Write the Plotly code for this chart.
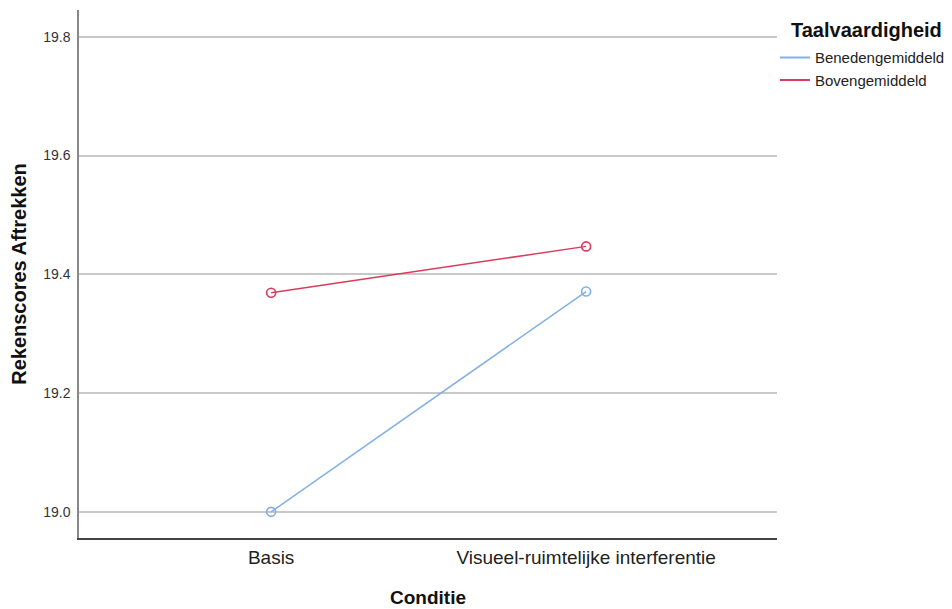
import plotly.graph_objects as go

categories = ["Basis", "Visueel-ruimtelijke interferentie"]
beneden = [19.000, 19.371]
boven = [19.369, 19.447]
series_names = ["Benedengemiddeld", "Bovengemiddeld"]
legend_title = "Taalvaardigheid"
y_ticks = [19.0, 19.2, 19.4, 19.6, 19.8]
y_tick_labels = ["19.0", "19.2", "19.4", "19.6", "19.8"]

colors = ["#80B0E8", "#DA3B5E"]

fig = go.Figure()
for name, vals, col in zip(series_names, [beneden, boven], colors):
    fig.add_trace(go.Scatter(
        x=categories, y=vals, name=name, mode="lines+markers",
        line=dict(color=col, width=1.5),
        marker=dict(symbol="circle-open", size=9, color=col, line=dict(width=1.6, color=col)),
        showlegend=False,
    ))
    # legend entry: line only, as in the reference
    fig.add_trace(go.Scatter(
        x=[None], y=[None], name=name, mode="lines",
        line=dict(color=col, width=2), showlegend=True,
    ))

font_family = "Liberation Sans, Arial, sans-serif"
fig.update_layout(
    width=952, height=609,
    margin=dict(l=71, r=183, t=2, b=79),
    paper_bgcolor="white", plot_bgcolor="white",
    font=dict(family=font_family, color="#222"),
    legend=dict(
        x=0.997, y=0.941, xanchor="left", yanchor="top",
        font=dict(size=15, color="#222"),
        itemwidth=30, tracegroupgap=0, bgcolor="rgba(0,0,0,0)",
    ),
    showlegend=True,
    annotations=[dict(
        text="<b>" + legend_title + "</b>", xref="paper", yref="paper",
        x=1.017, y=0.962, xanchor="left", yanchor="middle", showarrow=False,
        font=dict(size=20, color="#111"),
    )],
)
fig.update_xaxes(
    type="category", range=[-0.61, 1.606],
    showline=True, linecolor="#444", linewidth=1.5,
    showgrid=False, zeroline=False,
    tickfont=dict(size=19, color="#222"),
    ticks="outside", ticklen=1, tickcolor="rgba(0,0,0,0)",
    title=dict(text="<b>Conditie</b>", font=dict(size=19, color="#111"), standoff=24),
)
fig.update_yaxes(
    range=[18.956, 19.845],
    tickvals=y_ticks, ticktext=y_tick_labels,
    showline=True, linecolor="#888", linewidth=1.5,
    showgrid=True, gridcolor="#C8C8C8", gridwidth=1.5,
    zeroline=False,
    tickfont=dict(size=14, color="#333"),
    ticks="outside", ticklen=4, tickcolor="rgba(0,0,0,0)",
    title=dict(text="<b>Rekenscores Aftrekken</b>", font=dict(size=20, color="#111"), standoff=12),
)
fig.write_html("out.html")
